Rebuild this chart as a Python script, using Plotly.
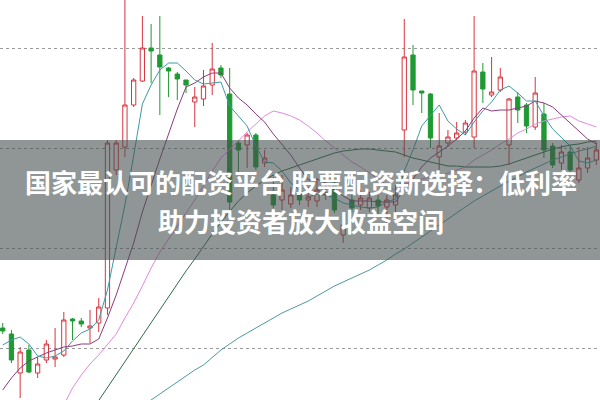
import plotly.graph_objects as go

idx = list(range(69))

open_ = [10.72,10.66,10.27,10.50,10.27,10.40,10.41,10.45,10.81,10.79,10.72,10.77,10.92,12.30,12.53,12.95,13.19,13.52,13.45,13.32,
         13.26,13.20,12.98,13.01,13.15,13.32,13.06,12.57,12.55,12.65,12.37,12.05,12.00,11.96,12.07,12.00,11.99,12.05,12.17,11.65,
         12.00,11.95,11.92,12.00,11.93,11.95,12.70,13.45,13.09,13.06,12.43,12.57,12.62,12.68,12.63,13.28,13.05,13.10,12.55,13.03,
         12.95,12.73,12.86,12.54,12.37,12.48,12.20,12.32,12.40]
high = [10.77,10.70,10.53,10.55,10.43,10.60,10.72,10.88,10.82,10.82,10.90,11.02,12.60,12.60,14.05,13.22,13.84,13.76,13.84,13.33,
        13.28,13.20,13.13,13.30,13.57,13.35,13.32,12.60,12.67,12.67,12.50,12.23,12.25,12.13,12.15,12.13,12.22,12.20,12.22,11.80,
        12.05,12.10,12.08,12.05,12.05,12.15,13.81,13.55,13.09,13.07,12.87,12.70,12.78,12.80,13.84,13.37,13.43,13.32,13.02,13.08,
        12.97,13.23,12.97,12.57,12.55,12.55,12.53,12.53,12.58]
low = [10.66,10.37,10.02,10.27,10.22,10.37,10.33,10.43,10.60,10.73,10.57,10.68,10.85,12.25,12.43,12.93,13.18,13.17,12.85,13.03,
       13.00,13.07,12.73,12.94,13.05,13.22,11.90,12.27,12.32,12.30,12.33,11.92,11.90,11.92,11.95,11.93,11.93,12.00,11.87,11.57,
       11.88,11.90,11.88,11.85,11.75,11.85,12.43,12.95,12.87,12.52,12.30,12.53,12.60,12.65,12.52,12.97,13.03,13.08,12.35,12.77,
       12.67,12.70,12.42,12.32,12.30,12.25,12.17,12.27,12.35]
close = [10.69,10.40,10.48,10.28,10.36,10.56,10.43,10.80,10.79,10.76,10.74,10.93,12.57,12.57,12.95,13.20,13.52,13.49,13.33,13.29,
         13.21,13.15,13.03,13.14,13.31,13.25,11.98,12.50,12.65,12.33,12.42,11.95,12.10,12.05,12.00,12.03,12.10,12.07,11.90,11.75,
         11.92,12.02,12.02,11.94,12.00,12.05,13.43,13.10,13.07,12.62,12.54,12.63,12.67,12.77,13.29,13.11,13.08,13.23,13.01,12.90,
         12.74,13.07,12.50,12.35,12.48,12.30,12.32,12.42,12.50]

ma5 = [10.55,10.60,10.63,10.56,10.44,10.42,10.44,10.49,10.59,10.67,10.71,10.80,11.10,11.51,11.95,12.44,12.96,13.15,13.30,13.37,
       13.37,13.29,13.20,13.16,13.17,13.18,12.94,12.84,12.74,12.54,12.38,12.37,12.29,12.17,12.10,12.03,12.06,12.05,12.02,11.97,
       11.95,11.93,11.92,11.93,11.98,12.01,12.29,12.50,12.74,12.85,12.95,12.79,12.71,12.65,12.78,12.89,12.98,13.10,13.14,13.07,
       12.99,12.99,12.84,12.71,12.63,12.54,12.39,12.37,12.40]
ma10 = [10.10,10.22,10.32,10.39,10.43,10.47,10.50,10.53,10.54,10.56,10.56,10.61,10.82,11.05,11.31,11.57,11.88,12.15,12.41,12.66,
        12.91,13.13,13.17,13.23,13.27,13.27,13.12,13.02,12.95,12.86,12.78,12.66,12.56,12.45,12.32,12.20,12.21,12.17,12.10,12.04,
        11.99,11.99,11.99,11.98,11.98,11.98,12.11,12.21,12.33,12.42,12.48,12.54,12.61,12.69,12.82,12.92,12.89,12.90,12.90,12.92,
        12.94,12.99,12.97,12.93,12.85,12.77,12.69,12.61,12.56]
ma20 = [9.30,9.38,9.47,9.55,9.63,9.72,9.82,9.95,10.12,10.25,10.36,10.45,10.56,10.66,10.82,10.97,11.14,11.32,11.48,11.61,
        11.73,11.87,12.00,12.14,12.29,12.42,12.50,12.59,12.68,12.76,12.84,12.89,12.87,12.84,12.80,12.74,12.67,12.59,12.52,12.45,
        12.38,12.33,12.27,12.21,12.15,12.09,12.16,12.19,12.21,12.23,12.23,12.27,12.30,12.33,12.40,12.45,12.50,12.56,12.61,12.67,
        12.71,12.76,12.79,12.81,12.83,12.84,12.79,12.76,12.73]
ma60 = [8.57,8.70,8.83,8.96,9.09,9.22,9.35,9.48,9.61,9.74,9.87,10.00,10.13,10.25,10.38,10.51,10.64,10.77,10.90,11.03,
        11.16,11.29,11.41,11.54,11.66,11.78,11.89,11.99,12.07,12.14,12.20,12.25,12.29,12.32,12.35,12.38,12.41,12.44,12.47,12.49,
        12.50,12.51,12.51,12.50,12.49,12.48,12.45,12.42,12.40,12.38,12.36,12.34,12.34,12.33,12.33,12.33,12.33,12.34,12.36,12.39,
        12.42,12.45,12.48,12.51,12.53,12.55,12.56,12.58,12.59]
ma120 = [8.98,9.04,9.10,9.16,9.22,9.28,9.34,9.40,9.46,9.52,9.58,9.64,9.70,9.76,9.82,9.88,9.94,10.00,10.06,10.12,
         10.18,10.24,10.30,10.35,10.43,10.50,10.56,10.62,10.67,10.72,10.77,10.82,10.87,10.91,10.95,10.99,11.04,11.09,11.14,11.18,
         11.22,11.26,11.30,11.35,11.40,11.46,11.51,11.57,11.63,11.69,11.75,11.81,11.87,11.93,11.99,12.04,12.09,12.14,12.19,12.23,
         12.28,12.32,12.36,12.40,12.43,12.46,12.49,12.51,12.54]

grid_vals = [10.52, 11.52, 12.52, 13.52]
title_lines = ["国家最认可的配资平台 股票配资新选择：低利率", "助力投资者放大收益空间"]

RED = "#d8353f"
GREEN = "#1f9a33"

fig = go.Figure()
fig.add_trace(go.Candlestick(
    x=idx, open=open_, high=high, low=low, close=close,
    increasing=dict(line=dict(color=RED, width=1), fillcolor="white"),
    decreasing=dict(line=dict(color=GREEN, width=1), fillcolor=GREEN),
    whiskerwidth=0, showlegend=False, hoverinfo="skip"))

for vals, col in [(ma120, "#4b9a9f"), (ma60, "#2f6b48"), (ma20, "#e389df"),
                  (ma10, "#8a3b7d"), (ma5, "#3c9ba6")]:
    fig.add_trace(go.Scatter(x=idx, y=vals, mode="lines",
                             line=dict(color=col, width=1), showlegend=False,
                             hoverinfo="skip"))

fig.add_shape(type="rect", xref="paper", yref="paper", x0=0, x1=1,
              y0=1 - 260 / 400, y1=1 - 140 / 400,
              fillcolor="rgba(68,80,78,0.6)", line=dict(width=0), layer="above")

for txt, yp in zip(title_lines, [0.546, 0.45]):
    fig.add_annotation(text=txt, xref="paper", yref="paper", x=0.502, y=yp,
                       xanchor="center", yanchor="middle", showarrow=False,
                       font=dict(family="Noto Sans CJK SC", size=26, color="white", weight="bold"))

fig.update_layout(
    width=600, height=400, margin=dict(l=0, r=0, t=0, b=0),
    paper_bgcolor="white", plot_bgcolor="white", hovermode=False,
    xaxis=dict(range=[-0.31, 68.42], visible=False, rangeslider=dict(visible=False)),
    yaxis=dict(range=[10.0, 14.0], tickvals=grid_vals, showticklabels=False,
               showgrid=True, gridcolor="#9a9a9a", griddash="dot", gridwidth=1,
               zeroline=False, showline=False),
)

fig.write_html("out.html", config={"displayModeBar": False, "staticPlot": True},
               post_script="document.body.style.margin='0';")
